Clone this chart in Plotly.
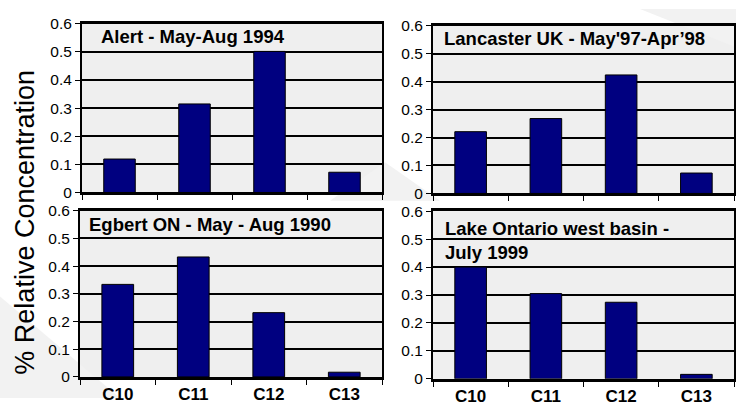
import plotly.graph_objects as go

# Carbon-chain categories
categories = ["C10", "C11", "C12", "C13"]

# Relative concentrations per sampling site
alert_1994 = [0.119, 0.315, 0.502, 0.072]
lancaster_9798 = [0.221, 0.268, 0.424, 0.073]
egbert_1990 = [0.334, 0.433, 0.232, 0.017]
lake_ontario_1999 = [0.400, 0.305, 0.274, 0.016]

panel_titles = [
    "Alert - May-Aug 1994",
    "Lancaster UK - May'97-Apr\u201998",
    "Egbert ON - May - Aug 1990",
    "Lake Ontario west basin -<br>July 1999",
]

y_ticks = [0, 0.1, 0.2, 0.3, 0.4, 0.5, 0.6]
y_tick_text = ["0", "0.1", "0.2", "0.3", "0.4", "0.5", "0.6"]

FONT = "Arial, Liberation Sans, sans-serif"
W, H = 736, 406


def px_x(v):
    return v / W


def px_y(v):
    return 1 - v / H


# panel boxes in pixels: left, right, top, bottom
boxes = [
    (82, 382, 15.5, 191.5),
    (433, 734, 17.5, 192.5),
    (80, 382, 210.5, 384),
    (433, 734, 211, 386),
]
series = [alert_1994, lancaster_9798, egbert_1990, lake_ontario_1999]
title_pos = [(99, 29), (442, 31), (87, 225), (443, 216)]

fig = go.Figure()
layout = dict(
    width=W,
    height=H,
    margin=dict(l=0, r=0, t=0, b=0),
    paper_bgcolor="white",
    plot_bgcolor="#efefef",
    showlegend=False,
    bargap=0.58,
    font=dict(family=FONT, color="black"),
)

annotations = []
for i, (vals, box) in enumerate(zip(series, boxes)):
    n = i + 1
    xa = "x" if n == 1 else f"x{n}"
    ya = "y" if n == 1 else f"y{n}"
    fig.add_trace(
        go.Bar(
            x=categories,
            y=vals,
            xaxis=xa,
            yaxis=ya,
            marker=dict(color="#000080", line=dict(color="black", width=1)),
            hoverinfo="x+y",
        )
    )
    l, r, t, b = box
    bottom_row = i >= 2
    layout[f"xaxis{'' if n == 1 else n}"] = dict(
        domain=[px_x(l), px_x(r)],
        anchor=ya,
        type="category",
        categoryorder="array",
        categoryarray=categories,
        showgrid=False,
        showline=True,
        linecolor="black",
        linewidth=2.5,
        mirror=True,
        ticks="outside",
        tickson="boundaries",
        ticklen=5,
        tickwidth=1.2,
        tickcolor="black",
        showticklabels=bottom_row,
        tickfont=dict(size=17, family=FONT, color="black", weight="bold"),
        fixedrange=True,
    )
    layout[f"yaxis{'' if n == 1 else n}"] = dict(
        domain=[px_y(b), px_y(t)],
        anchor=xa,
        range=[0, 0.6],
        tickvals=y_ticks,
        ticktext=y_tick_text,
        showgrid=True,
        gridcolor="black",
        gridwidth=1.6,
        zeroline=False,
        showline=True,
        linecolor="black",
        linewidth=2,
        mirror=True,
        ticks="outside",
        ticklen=5,
        tickwidth=1.2,
        tickcolor="black",
        tickfont=dict(size=15.5, family=FONT, color="black"),
        fixedrange=True,
    )
    tx, ty = title_pos[i]
    annotations.append(
        dict(
            text=f"<b>{panel_titles[i]}</b>",
            xref="paper",
            yref="paper",
            x=px_x(tx),
            y=px_y(ty),
            xanchor="left",
            yanchor="middle" if i != 3 else "top",
            align="left",
            showarrow=False,
            font=dict(size=18.5, family=FONT, color="black"),
        )
    )

# Shared y-axis title
annotations.append(
    dict(
        text="% Relative Concentration",
        xref="paper",
        yref="paper",
        x=px_x(25),
        y=px_y(223),
        xanchor="center",
        yanchor="middle",
        textangle=-90,
        showarrow=False,
        font=dict(size=27, family=FONT, color="black"),
    )
)
layout["annotations"] = annotations

# Faint decorative background shapes
def poly(points):
    path = "M " + " L ".join(f"{px_x(x)},{px_y(y)}" for x, y in points) + " Z"
    return dict(type="path", path=path, xref="paper", yref="paper",
                fillcolor="#f2f2f2", line=dict(width=0), layer="below")

layout["shapes"] = [
    poly([(0, 406), (0, 300), (120, 406)]),
    poly([(330, 200), (440, 200), (385, 160)]),
    poly([(640, 0), (736, 0), (736, 40)]),
]

fig.update_layout(**layout)
fig.write_html("out.html")
